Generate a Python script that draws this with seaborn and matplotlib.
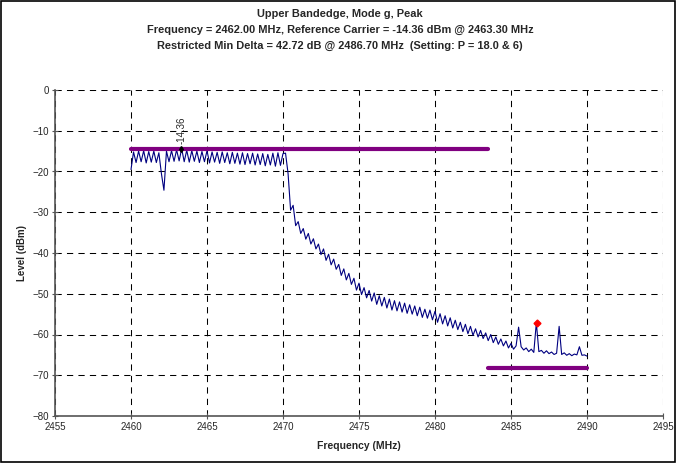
import numpy as np
import matplotlib
matplotlib.use('Agg')
import matplotlib.pyplot as plt
import seaborn as sns
from matplotlib.patches import Rectangle

# sweep: 2460 - 2490 MHz, 181 points
f_start, f_stop = 2460.0, 2490.0
level = [
    -19.5, -15.2, -17.8, -15.0, -17.6, -14.9, -17.9, -15.1, -17.7, -15.0,
    -17.8, -15.4, -20.5, -24.6, -15.0, -17.6, -14.9, -17.5, -14.7, -17.4,
    -14.4, -17.6, -14.8, -17.7, -14.9, -17.5, -15.0, -17.8, -15.1, -17.6,
    -14.9, -17.9, -15.2, -17.7, -15.3, -18.0, -15.2, -17.8, -15.4, -18.1,
    -15.3, -18.0, -15.5, -18.2, -15.4, -18.3, -15.6, -18.1, -15.5, -18.4,
    -15.7, -18.3, -15.6, -18.6, -15.8, -18.4, -15.5, -18.7, -15.4, -18.5,
    -15.6, -15.5, -20.5, -29.5, -28.3, -33.3, -32.3, -35.2, -34.0, -36.6,
    -35.2, -37.8, -36.5, -39.0, -37.8, -40.4, -39.0, -41.8, -40.3, -42.9,
    -41.5, -44.0, -42.8, -45.5, -43.9, -46.6, -45.0, -47.7, -46.2, -49.1,
    -47.4, -50.2, -48.5, -51.0, -49.2, -51.8, -49.8, -52.6, -50.5, -53.0,
    -50.9, -53.5, -51.3, -54.0, -51.7, -54.2, -52.0, -54.5, -52.3, -54.8,
    -52.7, -55.0, -53.0, -55.4, -53.3, -55.8, -53.8, -56.0, -54.0, -56.4,
    -54.3, -57.0, -54.9, -57.4, -55.4, -57.9, -55.9, -58.4, -56.5, -58.8,
    -57.0, -59.3, -57.5, -59.8, -58.0, -60.2, -58.6, -60.6, -59.0, -61.0,
    -59.6, -61.5, -60.0, -62.0, -60.6, -62.4, -61.1, -62.8, -61.6, -63.3,
    -62.2, -63.6, -62.8, -58.2, -63.0, -63.8, -63.3, -64.2, -63.6, -64.4,
    -57.1, -64.2, -63.9, -64.6, -64.0, -64.7, -64.3, -64.9, -64.6, -58.0,
    -64.9, -64.5, -65.1, -64.7, -65.2, -64.8, -65.0, -63.0, -65.1, -65.0,
    -65.3,
]
freq = np.linspace(f_start, f_stop, len(level))

# limit lines
ref_limit_f = [2460.0, 2483.5]
ref_limit_lvl = [-14.36, -14.36]
restr_limit_f = [2483.5, 2490.0]
restr_limit_lvl = [-68.3, -68.3]

# markers
carrier_f, carrier_lvl = 2463.3, -14.36
delta_f, delta_lvl = 2486.7, -57.08

sns.set_style('ticks')
plt.rcParams['font.family'] = ['Liberation Sans', 'DejaVu Sans']

fig = plt.figure(figsize=(6.76, 4.63), dpi=100)
ax = fig.add_axes([55/676, 1-416/463, 608/676, 326/463])

sns.lineplot(x=freq, y=level, color='#000080', lw=0.8, ax=ax)
sns.lineplot(x=ref_limit_f, y=ref_limit_lvl, color='#800080', lw=3, ax=ax)
sns.lineplot(x=restr_limit_f, y=restr_limit_lvl, color='#800080', lw=3, ax=ax)

ax.plot([carrier_f], [carrier_lvl], marker='d', color='black', ms=3)
ax.text(carrier_f, carrier_lvl + 1.2, '-14.36', rotation=90, ha='center', va='bottom', fontsize=7)
ax.plot([delta_f], [delta_lvl], marker='D', color='red', ms=3.5)

ax.set_xlim(2455, 2495)
ax.set_ylim(-80, 0)
ax.set_xticks(range(2455, 2496, 5))
ax.set_yticks(range(-80, 1, 10))
ax.grid(True, ls=(0, (6, 5)), color='black', lw=0.75)
sns.despine(ax=ax)
for s in ['left', 'bottom']:
    ax.spines[s].set_color('#555555')
    ax.spines[s].set_linewidth(1.2)
ax.tick_params(direction='inout', length=5, width=0.8, color='#555555', labelsize=7, pad=2)

ax.set_xlabel('Frequency (MHz)', fontsize=7.5, fontweight='bold', labelpad=6)
ax.set_ylabel('Level (dBm)', fontsize=7, fontweight='bold', labelpad=4)

fig.text(0.503, 1-9/463,
         'Upper Bandedge, Mode g, Peak\n'
         'Frequency = 2462.00 MHz, Reference Carrier = -14.36 dBm @ 2463.30 MHz\n'
         'Restricted Min Delta = 42.72 dB @ 2486.70 MHz  (Setting: P = 18.0 & 6)',
         ha='center', va='top', fontsize=7.9, fontweight='bold', linespacing=1.75)

fig.patches.append(Rectangle((0.002, 0.002), 0.996, 0.996, transform=fig.transFigure,
                             fill=False, edgecolor='black', lw=1.2))

fig.savefig('out.png', dpi=100)
